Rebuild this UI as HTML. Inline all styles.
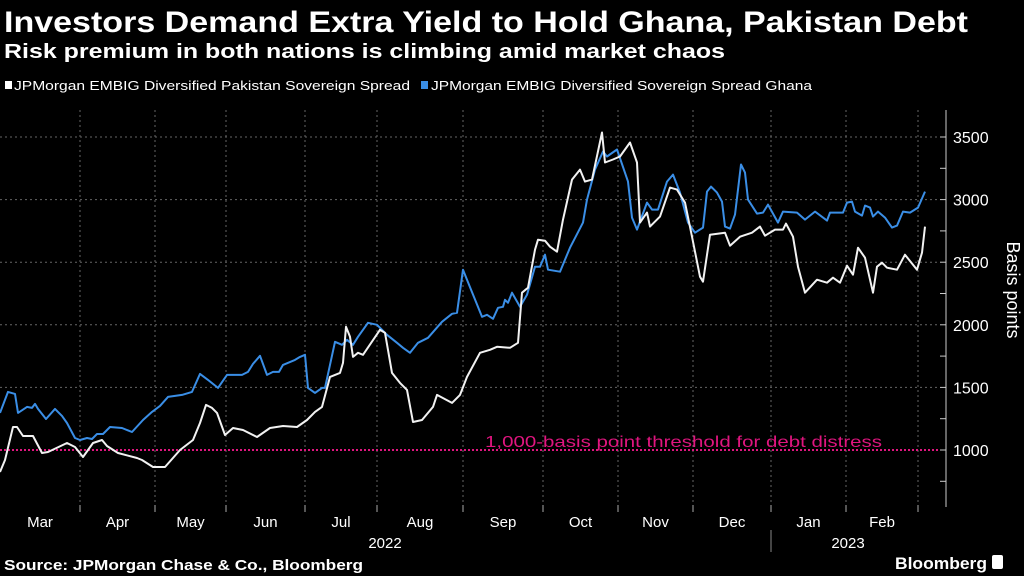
<!DOCTYPE html>
<html><head><meta charset="utf-8"><style>
html,body{margin:0;padding:0;background:#000;}
svg{display:block;font-family:"Liberation Sans",sans-serif;}
</style></head><body>
<svg id="chart" width="1024" height="576" viewBox="0 0 1024 576">
<rect width="1024" height="576" fill="#000"/>
<text x="4" y="32" fill="#fff" font-size="30" font-weight="bold" textLength="964" lengthAdjust="spacingAndGlyphs">Investors Demand Extra Yield to Hold Ghana, Pakistan Debt</text>
<text x="4" y="58" fill="#fff" font-size="20" font-weight="bold" textLength="721" lengthAdjust="spacingAndGlyphs">Risk premium in both nations is climbing amid market chaos</text>
<g>
<g><rect x="5" y="81" width="7" height="8" fill="#fff"/><text x="14" y="90" fill="#fff" font-size="13" textLength="396" lengthAdjust="spacingAndGlyphs">JPMorgan EMBIG Diversified Pakistan Sovereign Spread</text></g>
<g><rect x="421" y="81" width="7" height="8" fill="#3a8ee6"/><text x="431" y="90" fill="#fff" font-size="13" textLength="381" lengthAdjust="spacingAndGlyphs">JPMorgan EMBIG Diversified Sovereign Spread Ghana</text></g>
</g>
<g id="grid"></g>
<g id="axes"></g>
<g id="series"></g>
<text x="485" y="447" fill="#e0157f" font-size="16" textLength="397" lengthAdjust="spacingAndGlyphs">1,000-basis point threshold for debt distress</text>
<text transform="translate(1007,290) rotate(90)" text-anchor="middle" fill="#fff" font-size="18">Basis points</text>
<text x="4" y="570" fill="#fff" font-size="15" font-weight="bold" textLength="359" lengthAdjust="spacingAndGlyphs">Source: JPMorgan Chase &amp; Co., Bloomberg</text>
<g><text x="895" y="569" fill="#fff" font-size="17" font-weight="bold" textLength="92" lengthAdjust="spacingAndGlyphs">Bloomberg</text><rect x="992" y="555" width="11" height="14" rx="2" fill="#fff"/></g>
</svg>
<script>
const pakDays=[0,2,5.2,6.8,9.2,13.2,16.8,19.2,26.8,30,33.2,37.2,40.8,42.8,47.2,54.8,56.8,61.2,66,72,77.2,80,82.4,84.8,86.8,90,93.2,97.2,102.8,108,113.2,118.8,122.8,126,128.8,132,136,137.2,138.4,140,141.2,143.2,145.2,152,154,156.8,160,162.8,165.2,168.8,173.2,174.8,180.8,184,186.8,192,196,198.8,204,207.2,208.8,211.2,214,215.2,218,220,222.8,225.2,228.8,232,234,236.8,240.8,242,245.2,248,252,254.8,256,258.8,260,264,268,270.8,274,276.8,280,281.2,284,290,292,296,300.8,304,306,310,313.2,314.4,317.2,319.2,322,326.8,330.8,333.2,336,338.8,341.2,343.2,346,349.2,350.8,352.8,354.8,358.8,362,366.8,368.8,370];
const pakValues=[824,920,1184,1184,1112,1112,976,984,1056,1024,944,1056,1080,1032,976,936,920,864,864,1000,1080,1216,1360,1336,1296,1120,1176,1160,1104,1176,1192,1184,1240,1304,1344,1584,1616,1696,1984,1904,1744,1776,1760,1960,1936,1616,1536,1480,1224,1240,1344,1440,1376,1440,1584,1776,1800,1824,1816,1856,2256,2296,2600,2680,2672,2624,2584,2840,3160,3240,3144,3160,3536,3296,3320,3344,3456,3296,2816,2896,2784,2864,3096,3080,2976,2704,2384,2344,2720,2736,2632,2704,2736,2784,2712,2760,2760,2808,2704,2464,2256,2360,2336,2376,2336,2472,2400,2616,2536,2256,2464,2496,2456,2440,2560,2440,2576,2784];
const ghaDays=[0,3.2,6,7.2,10.8,12.8,14,15.2,18.4,22,24.8,26.8,30,32,34.8,36.8,38.8,41.2,44,48.8,52.8,57.2,60.8,64,67.2,72.8,76.8,80,83.2,87.2,90.8,96.8,99.2,101.2,104,106.8,109.2,111.6,113.2,118,120,122,123.2,126,128.8,130,134,136.8,138.8,141.2,143.2,147.2,150.8,154.8,158.8,161.2,164,167.2,171.2,174,176.8,180.8,182.8,185.2,186.8,192.8,194.8,197.2,199.2,201.2,202,203.2,204.8,208,210.8,214,216,218,219.2,224,228,233.2,234.8,238,241.2,242.8,246.8,251.2,252.8,254.8,258.8,260.8,263.2,266.8,269.2,272,275.2,278,281.2,282.8,284.4,286.8,288.8,290,292,294,296.4,298,299.2,302.8,305.2,307.2,311.2,313.2,318.8,322,326,330.8,332,337.2,338.8,340.8,342,344.8,346,348,349.2,351.2,354,356.8,358.8,361.2,364,367.2,370];
const ghaValues=[1296,1464,1448,1296,1344,1336,1368,1328,1248,1328,1272,1216,1096,1080,1096,1088,1128,1128,1184,1176,1144,1240,1304,1352,1424,1440,1464,1608,1560,1496,1600,1600,1624,1688,1752,1600,1624,1624,1680,1720,1744,1760,1496,1456,1496,1496,1864,1840,1880,1840,1904,2016,2000,1920,1856,1816,1776,1856,1896,1960,2024,2088,2096,2440,2360,2064,2080,2048,2136,2144,2200,2176,2256,2144,2240,2464,2464,2560,2440,2424,2616,2816,3000,3240,3384,3344,3400,3144,2856,2760,2976,2920,2920,3144,3200,3056,2816,2736,2776,3064,3104,3056,2984,2784,2768,2880,3280,3216,3000,2888,2896,2960,2816,2904,2896,2840,2904,2832,2896,2896,2976,2984,2904,2872,2952,2936,2864,2904,2856,2776,2792,2904,2896,2936,3064];
const monthLabels=["Mar","Apr","May","Jun","Jul","Aug","Sep","Oct","Nov","Dec","Jan","Feb"];
const monthStartDays=[0,32,62,90.4,122,150.8,185.2,217.2,247.2,277.2,308.4,338.4,367.2];
const yTicks=[1000,1500,2000,2500,3000,3500];
const yMinorTicks=[750,1000,1250,1500,1750,2000,2250,2500,2750,3000,3250,3500];
const threshold=1000;

const NS="http://www.w3.org/2000/svg";
const xS=d=>d*2.5;
const yS=v=>450-(v-1000)*0.1252;
function mk(tag,attrs,parent){const e=document.createElementNS(NS,tag);for(const k in attrs)e.setAttribute(k,attrs[k]);parent.appendChild(e);return e;}
const grid=document.getElementById('grid'),axes=document.getElementById('axes'),ser=document.getElementById('series');

yTicks.forEach(t=>{
  if(t===threshold)return;
  const l=mk('line',{x1:0,x2:940,y1:yS(t),y2:yS(t),stroke:'#666','stroke-width':1,'stroke-dasharray':'2,3'},grid);
  
  
});
monthStartDays.slice(1).forEach((d,i)=>{
  const l=mk('line',{x1:xS(d),x2:xS(d),y1:110,y2:507,stroke:'#666','stroke-width':1,'stroke-dasharray':'2,3'},grid);
  
  
  const t=mk('line',{x1:xS(d),x2:xS(d),y1:505,y2:512,stroke:'#aaa','stroke-width':1},axes);
  
  
});
monthLabels.forEach((m,i)=>{
  const cx=(xS(monthStartDays[i])+xS(monthStartDays[i+1]))/2;
  const t=mk('text',{x:cx,y:527,fill:'#fff','font-size':15,'text-anchor':'middle'},axes);
  t.textContent=m;
  
  
});
const y1=mk('text',{x:385,y:548,fill:'#fff','font-size':15,'text-anchor':'middle'},axes);y1.textContent='2022';


const y2=mk('text',{x:848,y:548,fill:'#fff','font-size':15,'text-anchor':'middle'},axes);y2.textContent='2023';


const sep=mk('line',{x1:771,x2:771,y1:530,y2:552,stroke:'#888','stroke-width':1},axes);


const ax=mk('line',{x1:946,x2:946,y1:110,y2:507,stroke:'#ccc','stroke-width':1},axes);


yMinorTicks.forEach(t=>{
  const l=mk('line',{x1:940,x2:946,y1:yS(t),y2:yS(t),stroke:'#ccc','stroke-width':1},axes);
  
  
});
yTicks.forEach(t=>{
  const e=mk('text',{x:953,y:yS(t)+6,fill:'#fff','font-size':16},axes);
  e.textContent=t;
  
  
});
const th=mk('line',{x1:0,x2:940,y1:yS(threshold),y2:yS(threshold),stroke:'#e0157f','stroke-width':2,'stroke-dasharray':'2,2'},grid);



function line(days,vals,color,name){
  const p=mk('path',{d:days.map((d,i)=>(i?'L':'M')+xS(d).toFixed(1)+','+yS(vals[i]).toFixed(1)).join(''),fill:'none',stroke:color,'stroke-width':2,'stroke-linejoin':'round'},ser);
  
  
}
line(ghaDays,ghaValues,'#3a8ee6','ghana-spread-line');
line(pakDays,pakValues,'#f2f2f2','pakistan-spread-line');
</script>
</body></html>
